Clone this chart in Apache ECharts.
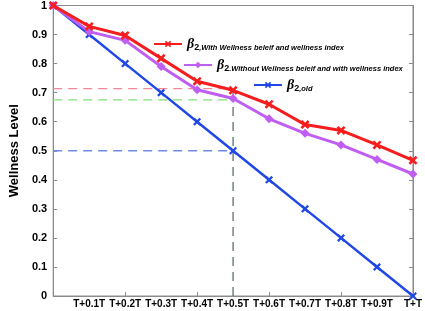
<!DOCTYPE html>
<html>
<head>
<meta charset="utf-8">
<script src="https://cdn.jsdelivr.net/npm/echarts@6/dist/echarts.min.js"></script>
<style>
  html, body { margin: 0; padding: 0; background: #fff; }
  #chart { width: 425px; height: 311px; }
</style>
</head>
<body>
<div id="chart"></div>
<script>
// x categories (first point has no label)
const xLabels = ['', 'T+0.1T', 'T+0.2T', 'T+0.3T', 'T+0.4T', 'T+0.5T', 'T+0.6T', 'T+0.7T', 'T+0.8T', 'T+0.9T', 'T+T'];
const withIndex = [1, 0.928, 0.897, 0.818, 0.739, 0.708, 0.66, 0.59, 0.57, 0.52, 0.467];
const withoutIndex = [1, 0.91, 0.88, 0.79, 0.71, 0.68, 0.61, 0.56, 0.52, 0.47, 0.42];
const oldValues = [1, 0.9, 0.8, 0.7, 0.6, 0.5, 0.4, 0.3, 0.2, 0.1, 0];
// reference levels read at T+0.5T
const refIndex = 5;
const refWith = 0.714;
const refWithout = 0.675;
const refOld = 0.5;

const legendText = {
    with: ',With Wellness beleif and wellness index',
    without: '.Without Wellness beleif and with wellness index',
    old: ',old'
};

const crossPath = 'path://M0,2L2,0L5,3L8,0L10,2L7,5L10,8L8,10L5,7L2,10L0,8L3,5Z';

var chart = echarts.init(document.getElementById('chart'));

function dashed(name, color, pts) {
    return {
        name: name, type: 'line', data: pts, symbol: 'none', silent: true,
        lineStyle: { color: color, width: 1.3, type: [9, 6] }, z: 1
    };
}

function legendFor(key, left, top) {
    return {
        data: [key], left: left, top: top,
        itemWidth: 28, itemHeight: 8, itemGap: 4, padding: 0,
        formatter: function (n) {
            return '{b|β}{s|2}{t|' + legendText[n] + '}';
        },
        textStyle: {
            rich: {
                b: { fontSize: 14, fontWeight: 'bold', fontStyle: 'italic', fontFamily: 'Liberation Serif', color: '#000' },
                s: { fontSize: 9, fontWeight: 'bold', color: '#000', padding: [8, 0, 0, 0] },
                t: { fontSize: 7.5, fontWeight: 'bold', fontStyle: 'italic', fontFamily: 'Liberation Sans', color: '#000', padding: [7, 0, 0, 0] }
            }
        }
    };
}

chart.setOption({
    animation: false,
    grid: {
        left: 44, right: 8, top: 5, bottom: 15,
        show: true, borderColor: '#8a8a8a', borderWidth: 1
    },
    legend: [
        legendFor('with', 153, 37),
        legendFor('without', 183, 58),
        legendFor('old', 253, 78)
    ],
    xAxis: {
        type: 'category', data: xLabels, boundaryGap: false,
        axisLine: { lineStyle: { color: '#8a8a8a' } },
        axisTick: { inside: true, length: 4, interval: function (i) { return i % 2 === 0; }, lineStyle: { color: '#8a8a8a' } },
        axisLabel: { interval: 0, color: '#000', fontWeight: 'bold', fontSize: 10, fontFamily: 'Liberation Sans', margin: 3 },
        splitLine: { show: false }
    },
    yAxis: [{
        type: 'value', min: 0, max: 1, interval: 0.1,
        name: 'Wellness Level', nameLocation: 'middle', nameGap: 28,
        nameTextStyle: { fontWeight: 'bold', fontSize: 13, fontFamily: 'Liberation Sans', color: '#000' },
        axisLine: { show: true, lineStyle: { color: '#8a8a8a' } },
        axisTick: { show: true, inside: true, length: 4, lineStyle: { color: '#8a8a8a' } },
        axisLabel: {
            color: '#000', fontWeight: 'bold', fontSize: 11, fontFamily: 'Liberation Sans', margin: 6,
            formatter: function (v) { return String(Math.round(v * 10) / 10); }
        },
        splitLine: { show: false }
    }, {
        type: 'value', min: 0, max: 1, interval: 0.1, position: 'right',
        axisLine: { show: true, lineStyle: { color: '#8a8a8a' } },
        axisTick: { show: true, inside: true, length: 4, lineStyle: { color: '#8a8a8a' } },
        axisLabel: { show: false },
        splitLine: { show: false }
    }],
    series: [
        dashed('refWith', '#f2889a', [[0, refWith], [refIndex, refWith]]),
        dashed('refWithout', '#7fe07a', [[0, refWithout], [refIndex, refWithout]]),
        dashed('refOld', '#6e8ce6', [[0, refOld], [refIndex, refOld]]),
        dashed('refVertical', '#5f6f6f', [[refIndex, 0], [refIndex, refWith]]),
        {
            name: 'old', type: 'line', data: oldValues,
            symbol: crossPath, symbolSize: 8, showAllSymbol: true,
            lineStyle: { color: '#1f48e6', width: 2.5 },
            itemStyle: { color: '#1f48e6' }, z: 3
        },
        {
            name: 'without', type: 'line', data: withoutIndex,
            symbol: 'diamond', symbolSize: 9, showAllSymbol: true,
            lineStyle: { color: '#c05ef2', width: 3 },
            itemStyle: { color: '#c05ef2' }, z: 4
        },
        {
            name: 'with', type: 'line', data: withIndex,
            symbol: crossPath, symbolSize: 9, showAllSymbol: true,
            lineStyle: { color: '#f51d1d', width: 3 },
            itemStyle: { color: '#f51d1d' }, z: 5
        }
    ]
});
</script>
</body>
</html>
